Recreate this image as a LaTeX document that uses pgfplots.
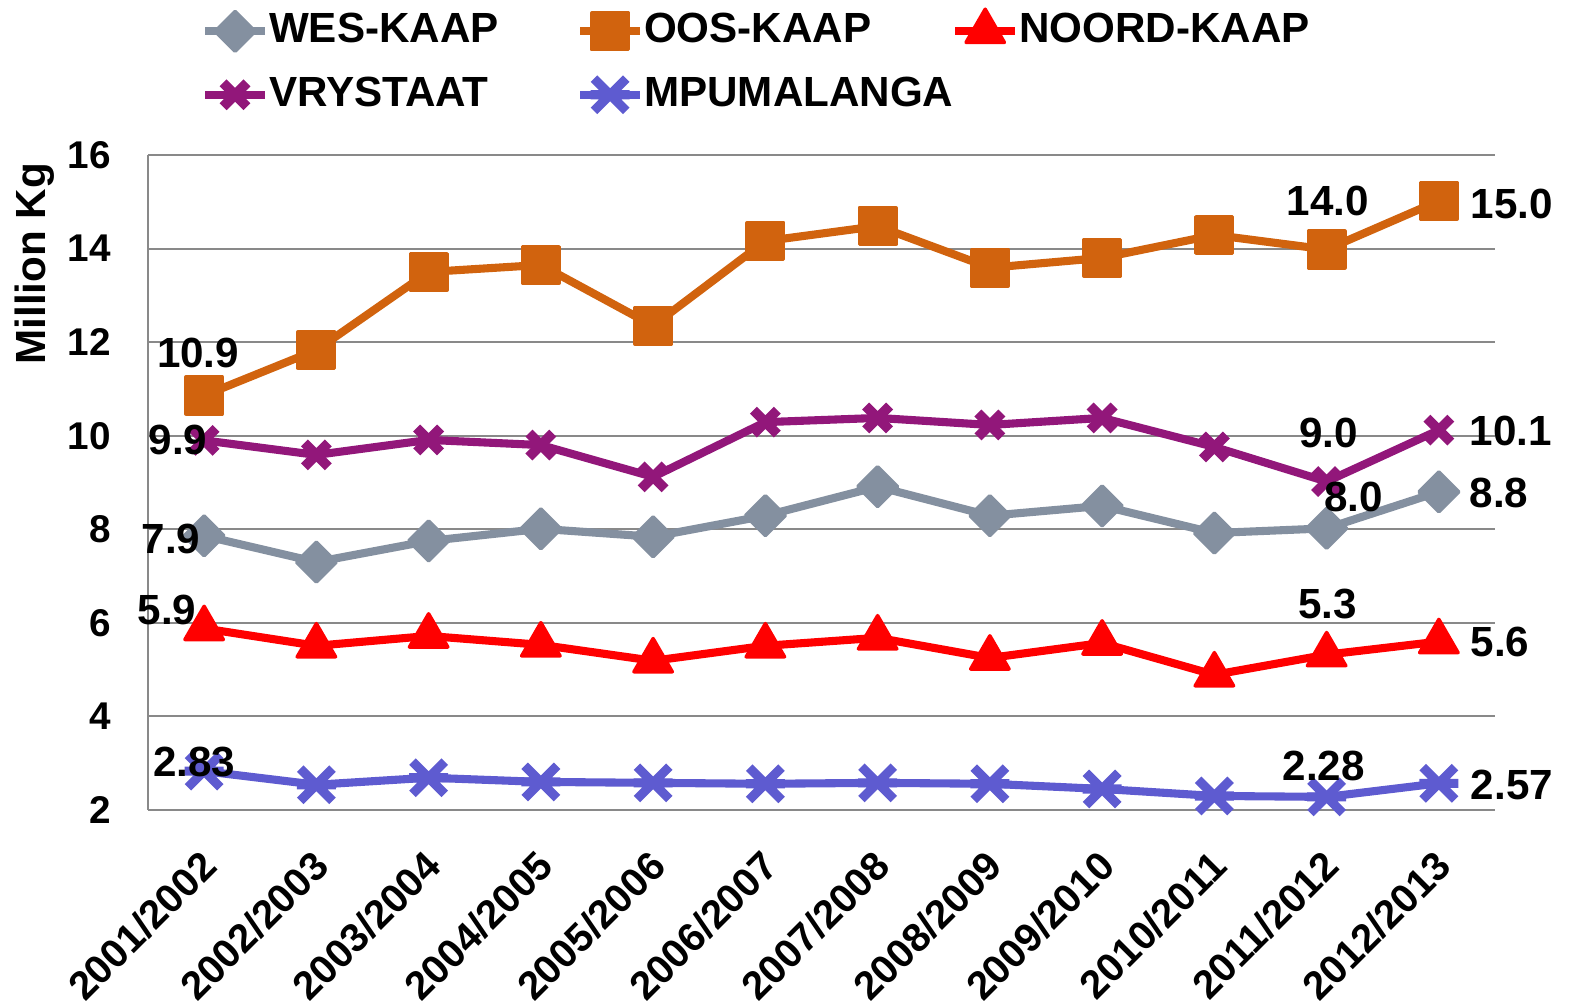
\documentclass[border=0pt]{standalone}
\usepackage{fontspec}
\setmainfont{Liberation Sans}
\usepackage{pgfplots}
\usepackage{pgfplotstable}
\pgfplotsset{compat=1.18}
\definecolor{wes}{RGB}{132,144,160}
\definecolor{oos}{RGB}{209,99,14}
\definecolor{noord}{RGB}{255,0,0}
\definecolor{vry}{RGB}{146,23,122}
\definecolor{mpu}{RGB}{94,91,208}
\definecolor{gridgray}{RGB}{137,137,137}
\pgfdeclareplotmark{xh}{%
  \pgfpathmoveto{\pgfqpoint{-\pgfplotmarksize}{-\pgfplotmarksize}}%
  \pgfpathlineto{\pgfqpoint{\pgfplotmarksize}{\pgfplotmarksize}}%
  \pgfpathmoveto{\pgfqpoint{-\pgfplotmarksize}{\pgfplotmarksize}}%
  \pgfpathlineto{\pgfqpoint{\pgfplotmarksize}{-\pgfplotmarksize}}%
  \pgfpathmoveto{\pgfqpoint{-1.2\pgfplotmarksize}{0pt}}%
  \pgfpathlineto{\pgfqpoint{1.2\pgfplotmarksize}{0pt}}%
  \pgfusepathqstroke}
\newcommand{\lblfont}{\bfseries\fontsize{12}{14}\selectfont}

\pgfplotstableread{
x wes oos noord vry mpu
0 7.86 10.86 5.88 9.90 2.83
1 7.30 11.83 5.51 9.59 2.54
2 7.75 13.50 5.72 9.91 2.69
3 8.01 13.65 5.53 9.80 2.60
4 7.84 12.35 5.19 9.12 2.58
5 8.29 14.16 5.51 10.29 2.56
6 8.91 14.48 5.68 10.38 2.58
7 8.29 13.59 5.25 10.23 2.56
8 8.50 13.80 5.57 10.38 2.45
9 7.92 14.29 4.89 9.76 2.30
10 8.02 13.98 5.32 9.02 2.28
11 8.80 15.02 5.60 10.12 2.57
}\data

\pgfplotstableread{
x y lab dx dy
0 10.86 10.9 -0.06 0.42
10 13.98 14.0 0.01 0.49
11 15.02 15.0 0.73 -0.03
}\laboos
\pgfplotstableread{
x y lab dx dy
0 9.90 9.9 -0.26 0.0
10 9.02 9.0 0.02 0.49
11 10.12 10.1 0.72 -0.01
}\labvry
\pgfplotstableread{
x y lab dx dy
0 7.86 7.9 -0.33 -0.03
10 8.02 8.0 0.27 0.31
11 8.80 8.8 0.60 -0.01
}\labwes
\pgfplotstableread{
x y lab dx dy
0 5.88 5.9 -0.37 0.18
10 5.32 5.3 0.01 0.51
11 5.60 5.6 0.61 0.0
}\labnoord
\pgfplotstableread{
x y lab dx dy
0 2.83 2.83 -0.10 0.09
10 2.28 2.28 -0.03 0.31
11 2.57 2.57 0.73 -0.02
}\labmpu

\pgfplotsset{
  lbl/.style={draw=none, mark=none, forget plot, nodes near coords,
    point meta=explicit symbolic,
    visualization depends on={\thisrow{dx} \as \ldx},
    visualization depends on={\thisrow{dy} \as \ldy},
    every node near coord/.append style={anchor=center, xshift=\ldx cm, yshift=\ldy cm, font=\lblfont, text=black, inner sep=0pt}},
  ser/.style={line width=2.3pt, line join=round},
}

\begin{document}
\begin{tikzpicture}
\begin{axis}[
  name=ax,
  scale only axis,
  width=13.47cm, height=6.55cm,
  xmin=-0.5, xmax=11.5, ymin=2, ymax=16,
  ytick={2,4,...,16},
  xtick={0,...,11},
  xticklabels={2001/2002,2002/2003,2003/2004,2004/2005,2005/2006,2006/2007,2007/2008,2008/2009,2009/2010,2010/2011,2011/2012,2012/2013},
  axis x line*=bottom, axis y line*=left,
  axis line style={draw=gridgray, line width=0.6pt},
  ymajorgrids, grid style={draw=gridgray, line width=0.6pt},
  major tick length=0pt,
  clip=false,
  /pgf/number format/assume math mode=true,
  yticklabel style={font=\bfseries\fontsize{11}{13}\selectfont, anchor=east, xshift=-0.25cm},
  xticklabel style={font=\bfseries\fontsize{11.4}{14}\selectfont, rotate=45, anchor=north east, xshift=-0.187cm, yshift=-0.107cm},
  ylabel={Million Kg},
  ylabel style={font=\lblfont, at={(axis description cs:-0.084,0.834)}, anchor=center},
  legend columns=3,
  legend style={at={(rel axis cs:0,1)}, anchor=south west, xshift=0.53cm, yshift=0.40cm,
    draw=none, fill=none, inner sep=0pt, outer sep=0pt, column sep=0pt, row sep=0.23cm,
    font=\lblfont,
    nodes={text width=3.07cm, inner xsep=0pt, inner ysep=0pt, text height=0.9em, text depth=0.25em, align=left}},
]
\addplot[ser, color=wes, mark=square*, mark size=4pt, mark options={rotate=45, line width=1pt, line join=round, solid}] table[x=x,y=wes] {\data};
\addlegendentry{WES-KAAP}
\addplot[ser, color=oos, mark=square*, mark size=5.2pt, mark options={line width=1pt, line join=round, solid}] table[x=x,y=oos] {\data};
\addlegendentry{OOS-KAAP}
\addplot[ser, color=noord, mark=triangle*, mark size=6.3pt, mark options={line width=1pt, line join=round, solid}] table[x=x,y=noord] {\data};
\addlegendentry{NOORD-KAAP}
\addplot[ser, color=vry, mark=x, mark size=4.8pt, mark options={line width=2.8pt, solid}] table[x=x,y=vry] {\data};
\addlegendentry{VRYSTAAT}
\addplot[ser, color=mpu, mark=xh, mark size=4.6pt, mark options={line width=2.6pt, solid}] table[x=x,y=mpu] {\data};
\addlegendentry{MPUMALANGA}

\addplot[lbl] table[x=x,y=y,meta=lab] {\labwes};
\addplot[lbl] table[x=x,y=y,meta=lab] {\laboos};
\addplot[lbl] table[x=x,y=y,meta=lab] {\labnoord};
\addplot[lbl] table[x=x,y=y,meta=lab] {\labvry};
\addplot[lbl] table[x=x,y=y,meta=lab] {\labmpu};
\end{axis}
\pgfresetboundingbox
\path (ax.south west) ++(-1.48cm,-1.98cm) rectangle ++(15.72cm,10.08cm);
\end{tikzpicture}
\end{document}
